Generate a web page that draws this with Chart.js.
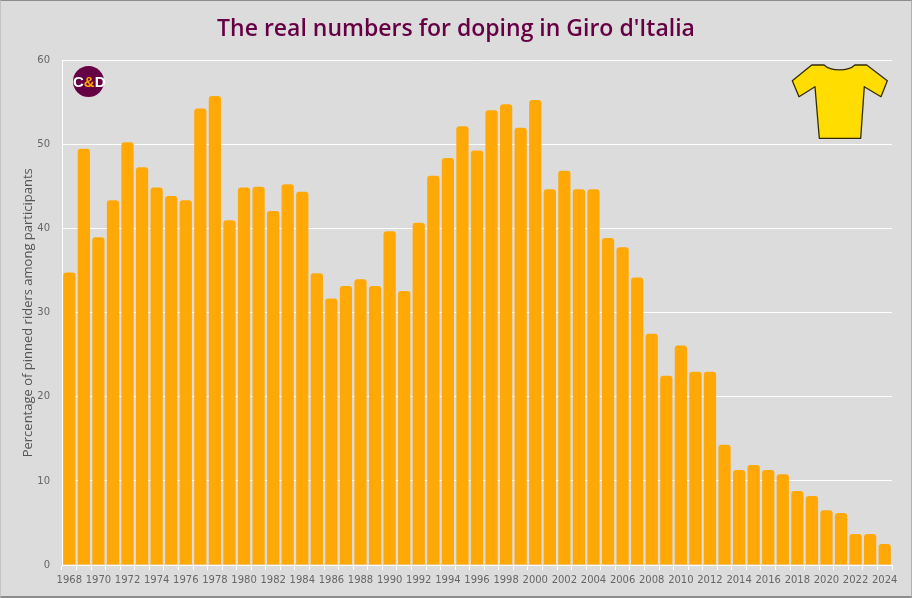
<!DOCTYPE html>
<html>
<head>
<meta charset="utf-8">
<title>Giro d'Italia doping</title>
<script src="https://cdn.jsdelivr.net/npm/chart.js@4/dist/chart.umd.min.js"></script>
<style>
  html, body { margin: 0; padding: 0; background: #dcdcdc; }
  #wrap { position: relative; width: 912px; height: 598px; overflow: hidden; box-sizing: border-box;
          border-top: 1px solid #8c8c8c; border-bottom: 2px solid #8c8c8c; border-left: 1px solid #c4c4c4; border-right: 1px solid #b0b0b0; }
  #chart { position: absolute; left: -1px; top: -1px; }
  #logo { position: absolute; left: 72px; top: 65px; width: 31px; height: 31px; border-radius: 50%; background: #660044;
          color: #fff; font: bold 15px "Liberation Sans", sans-serif; line-height: 31px; text-align: center; white-space: nowrap; }
  #logo span { color: #ffa500; }
  #jersey { position: absolute; left: 789px; top: 63px; }
</style>
</head>
<body>
<div id="wrap">
  <canvas id="chart" width="912" height="598"></canvas>
  <div id="logo">C<span>&amp;</span>D</div>
  <svg id="jersey" width="100" height="78" viewBox="790 64 100 78">
    <path d="M811.700 65 L824 65 C831 71.500 848 71.500 855 65 L866.700 65 L887.300 80.700 L881 96.700 L864.300 86.700 L860.700 138.300 L819.300 138.300 L815 86.700 L799 96.700 L792.300 80.700 Z"
          fill="#ffdd00" stroke="#332b00" stroke-width="1.3" stroke-linejoin="round"/>
  </svg>
</div>
<script>
const years = [1968,1969,1970,1971,1972,1973,1974,1975,1976,1977,1978,1979,1980,1981,1982,1983,1984,1985,1986,
  1987,1988,1989,1990,1991,1992,1993,1994,1995,1996,1997,1998,1999,2000,2001,2002,2003,2004,2005,2006,2007,
  2008,2009,2010,2011,2012,2013,2014,2015,2016,2017,2018,2019,2020,2021,2022,2023,2024];
const pinned = [34.8,49.5,39,43.4,50.3,47.3,44.9,43.9,43.4,54.3,55.8,41,44.9,45,42.1,45.3,44.4,34.7,31.7,
  33.2,34,33.2,39.7,32.6,40.7,46.3,48.4,52.2,49.3,54.1,54.8,52,55.3,44.7,46.9,44.7,44.7,38.9,37.8,34.2,
  27.5,22.5,26.1,23,23,14.3,11.3,11.9,11.3,10.8,8.8,8.2,6.5,6.2,3.7,3.7,2.5];
const yTicks = [0,10,20,30,40,50,60];

const tickFont = { family: 'DejaVu Sans', size: 10 };

new Chart(document.getElementById('chart'), {
  type: 'bar',
  data: {
    labels: years,
    datasets: [{
      data: pinned,
      backgroundColor: '#ffa806',
      borderRadius: { topLeft: 3, topRight: 3 },
      borderSkipped: 'bottom',
      categoryPercentage: 1,
      barPercentage: 0.84
    }]
  },
  options: {
    responsive: false,
    animation: false,
    devicePixelRatio: 1,
    layout: { padding: { left: 20, right: 20, top: 0, bottom: 0 } },
    plugins: {
      legend: { display: false },
      tooltip: { enabled: false },
      title: {
        display: true,
        text: "The real numbers for doping in Giro d'Italia",
        color: '#660044',
        font: { family: 'Open Sans', size: 23, weight: 600 },
        padding: { top: 16, bottom: 17 }
      }
    },
    scales: {
      x: {
        afterFit: s => { s.height = 33; },
        grid: {
          offset: true,
          tickColor: '#ffffff',
          tickLength: 5,
          color: ctx => (ctx.index === years.length ? '#ffffff' : 'transparent')
        },
        border: { color: '#ffffff', width: 1 },
        ticks: {
          autoSkip: false,
          maxRotation: 0,
          padding: 4,
          color: '#666666',
          font: tickFont,
          callback: (v, i) => (i % 2 === 0 ? years[i] : '')
        }
      },
      y: {
        min: 0,
        max: 60,
        afterFit: s => { s.width = 42; },
        afterBuildTicks: s => { s.ticks = yTicks.map(v => ({ value: v })); },
        grid: { color: '#ffffff', tickLength: 0, lineWidth: 1 },
        border: { color: '#ffffff', width: 1 },
        ticks: { padding: 12, color: '#666666', font: tickFont },
        title: {
          display: true,
          text: 'Percentage of pinned riders among participants',
          color: '#555555',
          font: { family: 'Open Sans', size: 13 },
          padding: { top: 0, bottom: 0 }
        }
      }
    }
  }
});
</script>
</body>
</html>
